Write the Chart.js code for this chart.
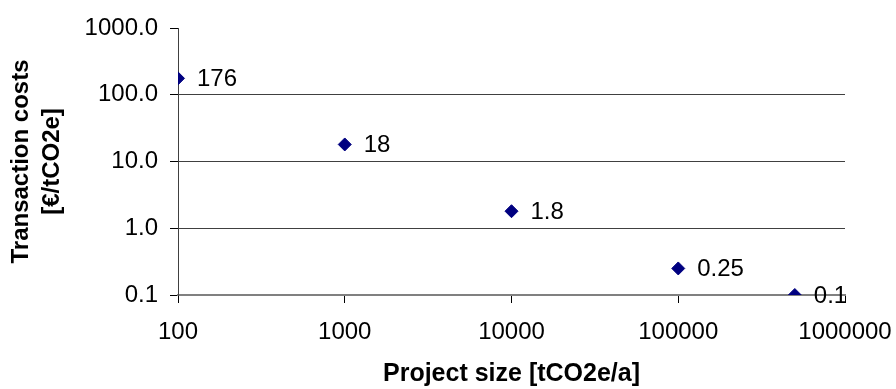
<!DOCTYPE html>
<html>
<head>
<meta charset="utf-8">
<script src="https://cdn.jsdelivr.net/npm/chart.js@4/dist/chart.umd.min.js"></script>
<style>
  html, body { margin: 0; padding: 0; background: #fff; }
  #wrap { width: 896px; height: 389px; }
</style>
</head>
<body>
<div id="wrap"><canvas id="c" width="896" height="389"></canvas></div>
<script>
const projectSizes = [100, 1000, 10000, 100000, 500000];
const transactionCosts = [176, 18, 1.8, 0.25, 0.1];
const pointLabels = ['176', '18', '1.8', '0.25', '0.1'];
const xTickValues = [100, 1000, 10000, 100000, 1000000];
const yTickValues = [0.1, 1, 10, 100, 1000];
const xTitle = 'Project size [tCO2e/a]';
const yTitle = ['Transaction costs', '[€/tCO2e]'];

const FONT = 'Liberation Sans, Arial, sans-serif';

const labelPlugin = {
  id: 'pointLabels',
  afterDatasetsDraw(chart) {
    const ctx = chart.ctx;
    const meta = chart.getDatasetMeta(0);
    ctx.save();
    ctx.font = '24px ' + FONT;
    ctx.fillStyle = '#000';
    ctx.textAlign = 'left';
    ctx.textBaseline = 'middle';
    meta.data.forEach((pt, i) => {
      ctx.fillText(pointLabels[i], pt.x + 19, pt.y + 1);
    });
    ctx.restore();
  }
};

new Chart(document.getElementById('c'), {
  type: 'scatter',
  data: {
    datasets: [{
      data: projectSizes.map((x, i) => ({ x: x, y: transactionCosts[i] })),
      pointStyle: 'rectRot',
      pointRadius: 6.5,
      pointHoverRadius: 6.5,
      backgroundColor: '#000080',
      borderColor: '#000080',
      borderWidth: 1
    }]
  },
  options: {
    responsive: false,
    animation: false,
    devicePixelRatio: 1,
    layout: { padding: { left: 0, right: 51, top: 28, bottom: 0 } },
    plugins: { legend: { display: false }, tooltip: { enabled: false } },
    scales: {
      x: {
        type: 'logarithmic',
        min: 100,
        max: 1000000,
        afterBuildTicks(scale) { scale.ticks = xTickValues.map(v => ({ value: v })); },
        afterFit(scale) { scale.height = 94; scale.paddingLeft = 0; scale.paddingRight = 0; },
        ticks: {
          color: '#000',
          font: { family: FONT, size: 24 },
          padding: 15,
          maxRotation: 0,
          autoSkip: false,
          callback: (v) => String(v)
        },
        grid: {
          drawOnChartArea: false,
          tickLength: 8,
          tickColor: '#000',
          tickWidth: 1
        },
        border: { color: '#808080', width: 2 },
        title: {
          display: true,
          text: xTitle,
          color: '#000',
          font: { family: FONT, size: 25, weight: 'bold' },
          padding: { top: 4, bottom: 0 }
        }
      },
      y: {
        type: 'logarithmic',
        min: 0.1,
        max: 1000,
        afterBuildTicks(scale) { scale.ticks = yTickValues.map(v => ({ value: v })); },
        afterFit(scale) { scale.width = 178; scale.paddingTop = 0; scale.paddingBottom = 0; },
        ticks: {
          color: '#000',
          font: { family: FONT, size: 24 },
          padding: 12,
          autoSkip: false,
          callback: (v) => Number(v).toFixed(1)
        },
        grid: {
          color: (c) => (c.tick && c.tick.value >= 1000) ? 'rgba(0,0,0,0)' : '#404040',
          tickColor: '#000',
          tickLength: 8,
          lineWidth: 1
        },
        border: { color: '#404040', width: 1 },
        title: {
          display: true,
          text: yTitle,
          color: '#000',
          font: { family: FONT, size: 24, weight: 'bold', lineHeight: 1.3 },
          padding: { top: 6, bottom: 0 }
        }
      }
    }
  },
  plugins: [labelPlugin]
});
</script>
</body>
</html>
